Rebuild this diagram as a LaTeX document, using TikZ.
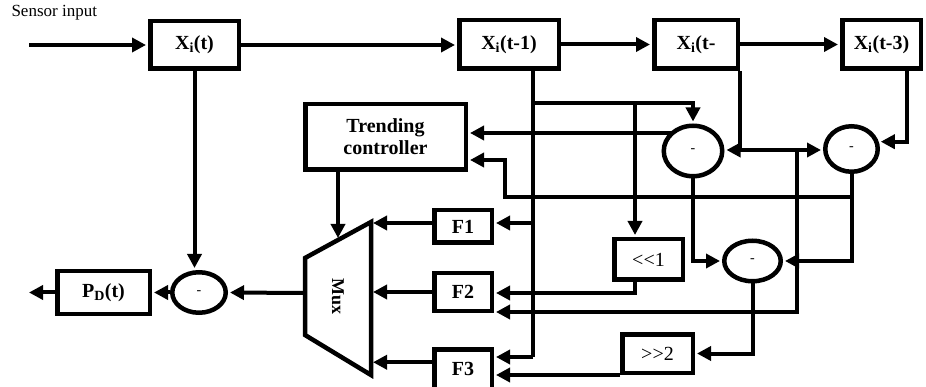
\documentclass[tikz,border=0pt]{standalone}
\usepackage{fontspec}
\setmainfont{Liberation Serif}
\usetikzlibrary{shapes.geometric,arrows.meta}
\pgfdeclarelayer{bg}
\pgfsetlayers{bg,main}
\begin{document}
\begin{tikzpicture}[x=1pt,y=-1pt,
  wire/.style={line width=4pt},
  arr/.style={wire,-{Triangle[length=14pt,width=14pt]},shorten >=2pt},
  blk/.style={draw,line width=4.5pt,fill=white,inner sep=0pt,font=\bfseries\fontsize{20}{22}\selectfont},
  shf/.style={blk,font=\fontsize{20}{22}\selectfont},
  sub/.style={draw,ellipse,line width=4.5pt,fill=white,inner sep=0pt,font=\fontsize{14}{16}\selectfont}]
\useasboundingbox (0,0) rectangle (926,387);
\clip (0,0) rectangle (926,387);

% ---------- nodes ----------
\node[anchor=west,font=\fontsize{17}{19}\selectfont] (lbl) at (8,13) {Sensor input};
\node[blk,minimum width=88.5pt,minimum height=47.5pt] (xt) at (194.5,45) {X\textsubscript{i}(t)};
\node[blk,minimum width=99.5pt,minimum height=48.5pt] (xt1) at (509,44.5) {X\textsubscript{i}(t-1)};
\node[blk,minimum width=83.5pt,minimum height=48.5pt] (xt2) at (696,44.5) {X\textsubscript{i}(t-};
\node[blk,minimum width=78.5pt,minimum height=48.5pt] (xt3) at (881.5,44.5) {X\textsubscript{i}(t-3)};
\node[blk,minimum width=160.5pt,minimum height=65.5pt,align=center] (tc) at (385.5,137) {Trending\\controller};
\node[blk,minimum width=92.5pt,minimum height=42.5pt] (pd) at (103.5,292.5) {P\textsubscript{D}(t)};
\node[blk,minimum width=57.5pt,minimum height=32.5pt] (f1) at (463,226.5) {F1};
\node[blk,minimum width=57.5pt,minimum height=37.5pt] (f2) at (463,292) {F2};
\node[blk,minimum width=57.5pt,minimum height=40pt] (f3) at (463,369.25) {F3};
\node[shf,minimum width=68.5pt,minimum height=40.5pt] (sh1) at (648.5,259.5) {<{}<1};
\node[shf,minimum width=70.5pt,minimum height=38.5pt] (sh2) at (657.5,353.5) {>{}>2};
\node[sub,minimum width=53.5pt,minimum height=40.5pt] (c0) at (199,292.5) {-};
\node[sub,minimum width=58.5pt,minimum height=50.5pt] (c1) at (693,151) {-};
\node[sub,minimum width=52.5pt,minimum height=45.5pt] (c2) at (851.5,149) {-};
\node[sub,minimum width=56.5pt,minimum height=40.5pt] (c3) at (752.5,261) {-};

% multiplexer
\draw[line width=4.5pt,fill=white] (305,258) -- (371,222) -- (371,375) -- (305,335) -- cycle;
\node[font=\bfseries\fontsize{18}{20}\selectfont,rotate=-90] (mux) at (338,297) {Mux};
\coordinate (muxL) at (305,293);
\coordinate (muxT) at (338,240);
\coordinate (muxR) at (371,0);

% free ends and junctions
\coordinate (in) at (29,45);
\coordinate (out) at (27,292.5);
\coordinate (cA) at (533,0);
\coordinate (a1) at (533,103);
\coordinate (a2) at (533,223);
\coordinate (a3) at (533,357);
\coordinate (b1) at (635,103);
\coordinate (b2) at (635,293);
\coordinate (t1) at (0,133);
\coordinate (d0) at (740,150);
\coordinate (d1) at (797,150);
\coordinate (d2) at (797,312);
\coordinate (e0) at (907,0);
\coordinate (g1) at (851.5,197);
\coordinate (g2) at (505,197);
\coordinate (g3) at (505,160);

% ---------- connectors ----------
\begin{pgfonlayer}{bg}
\draw[arr] (in) -- (xt.west);
\draw[arr] (xt.east) -- (xt.east -| xt1.west);
\draw[arr] (xt1.east) -- (xt2.west);
\draw[arr] (xt2.east) -- (xt3.west);
\draw[arr] (xt.south) -- (xt.south |- c0.north);
\draw[arr] (muxL) -- (c0.east);
\draw[arr] (c0.west) -- (pd.east);
\draw[arr] (pd.west) -- (out);
\draw[arr] (muxT |- tc.south) -- (muxT);
\draw[arr] ([yshift=3.5pt]f1.west) -- ([yshift=3.5pt]f1.west -| muxR);
\draw[arr] (f2.west) -- (f2.west -| muxR);
\draw[arr] ([yshift=7pt]f3.west) -- ([yshift=7pt]f3.west -| muxR);

\draw[wire] (xt1.south -| cA) -- (a3);
\draw[arr] (a2) -- (a2 -| f1.east);
\draw[arr] (a3) -- (a3 -| f3.east);
\draw[arr] (a1) -| (c1.north);
\draw[arr] (b1) -- (b1 |- sh1.north);
\draw[arr] (b1 |- sh1.south) -- (b2) -- (b2 -| f2.east);

\draw[arr] (c1.center |- t1) -- (tc.east |- t1);
\draw[arr] (c1.south) |- (c3.west);

\draw[wire] (xt2.south -| d0) -- (d0);
\draw[arr] (d0) -- (d0 -| c1.east);
\draw[arr] (d0) -- (d0 -| c2.west);
\draw[arr] (d1) -- (d2) -- (d2 -| f2.east);

\draw[arr] (xt3.south -| e0) |- (c2.15);
\draw[arr] (c2.south) |- (c3.east);
\draw[arr] (g1) -- (g2) -- (g3) -- (g3 -| tc.east);

\draw[arr] (c3.south) |- (sh2.east);
\draw[arr] (sh2.south west) -- (sh2.south west -| f3.east);
\end{pgfonlayer}
\end{tikzpicture}
\end{document}
